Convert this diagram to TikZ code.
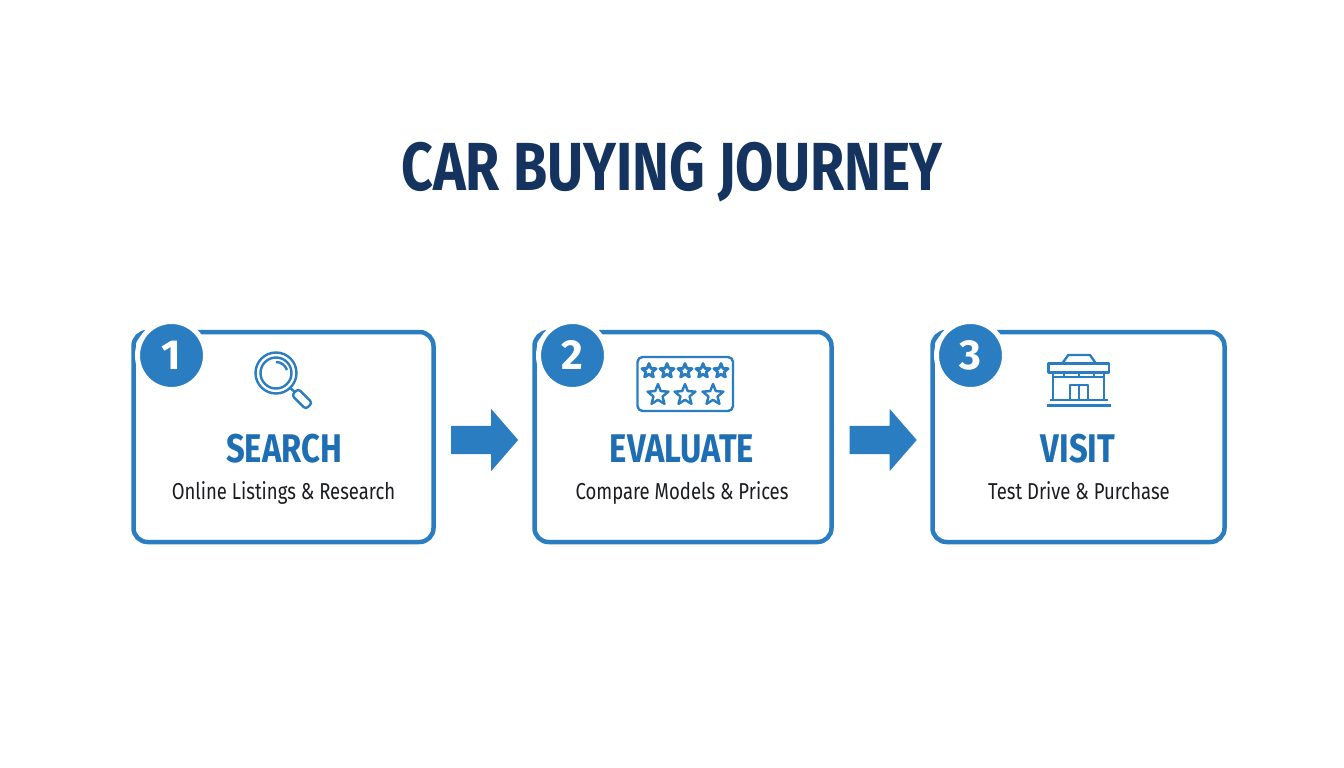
\documentclass[tikz,border=0pt]{standalone}
\usepackage{fontspec}
\setmainfont{Fira Sans}
\usetikzlibrary{shapes.arrows,shapes.geometric}
\definecolor{boxColor}{RGB}{42,125,192}
\definecolor{headColor}{RGB}{30,110,180}
\definecolor{titleColor}{RGB}{20,52,95}
\definecolor{textColor}{RGB}{26,28,32}
\tikzset{
  stepbox/.style={draw=boxColor,line width=4.5pt,fill=white,rounded corners=14pt,inner sep=0pt,outer sep=0pt},
  badge/.style={circle,fill=boxColor,draw=white,line width=5pt,minimum size=68pt,inner sep=0pt,text=white,font=\fontsize{42}{42}\selectfont\bfseries},
  flowarrow/.style={single arrow,fill=boxColor,inner xsep=0pt,inner ysep=14pt,outer sep=0pt,minimum height=67pt,minimum width=62pt,single arrow head extend=17pt,single arrow tip angle=98},
  headtext/.style={text=headColor,inner sep=0pt,outer sep=0pt,anchor=base,xscale=0.82,font=\fontsize{40}{40}\selectfont\bfseries},
  subtext/.style={text=textColor,inner sep=0pt,outer sep=0pt,anchor=base,xscale=0.805,font=\fontsize{23}{23}\selectfont},
  iconline/.style={draw=boxColor,line width=2.4pt,line join=round},
  bigstar/.style={star,star points=5,star point ratio=2.3,draw=boxColor,line width=2.4pt,inner sep=0pt,outer sep=0pt,line join=round},
}
\begin{document}
\begin{tikzpicture}[x=1pt,y=-1pt]
\path[use as bounding box,fill=white] (0,0) rectangle (1344,768);

\node[text=titleColor,inner sep=0pt,outer sep=0pt,anchor=base,xscale=0.815,font=\fontsize{68}{68}\selectfont\bfseries] (title) at (672,190) {CAR BUYING JOURNEY};

\node[stepbox,minimum width=300pt,minimum height=210pt] (search) at (283.5,437) {};
\node[stepbox,minimum width=297pt,minimum height=210pt] (evaluate) at (683,437) {};
\node[stepbox,minimum width=292pt,minimum height=210pt] (visit) at (1078.5,437) {};

\node[badge] (badge1) at (171.5,355.5) {1};
\node[badge] (badge2) at (572.5,355.5) {2};
\node[badge] (badge3) at (970.5,355.5) {3};

\node[flowarrow] (arrow1) at (478.5,440) {};
\node[flowarrow] (arrow2) at (877,440) {};

\node[headtext] (searchhead) at (284,462) {SEARCH};
\node[headtext] (evaluatehead) at (682,462) {EVALUATE};
\node[headtext] (visithead) at (1078,462) {VISIT};

\node[subtext] (searchsub) at (283.5,499) {Online Listings \& Research};
\node[subtext] (evaluatesub) at (682,499) {Compare Models \& Prices};
\node[subtext] (visitsub) at (1079,499) {Test Drive \& Purchase};

% magnifying glass
\path[iconline] (276,373) circle (20.5);
\path[iconline] (276,373) circle (15.5);
\path[iconline] (276,362) .. controls (281,362) and (285,365) .. (287,370);
\path[iconline] (290,388) -- (295,392);
\path[iconline,rounded corners=3pt] (298.2,388.8) -- (291.8,395.2) -- (305.8,409.2) -- (312.2,402.8) -- cycle;

% rating card
\path[iconline,rounded corners=5pt] (637.5,357) rectangle (733,411);
\foreach \x in {649,667,685,703,721} {
  \node[bigstar,minimum size=15pt,line width=2.8pt] (small\x) at (\x,371) {};
}
\foreach \x in {658,685,713} {
  \node[bigstar,minimum size=22pt] (large\x) at (\x,395) {};
}

% showroom
\path[iconline] (1062.3,363.3) -- (1068.3,355) -- (1090,355) -- (1095.7,363.3);
\path[iconline] (1048.3,363.3) rectangle (1109,372.3);
\path[iconline] (1053,372.3) -- (1053,400);
\path[iconline] (1104,372.3) -- (1104,400);
\path[iconline] (1053,377) -- (1104,377);
\path[iconline] (1064,372.3) -- (1064,377);
\path[iconline] (1079,372.3) -- (1079,377);
\path[iconline] (1094,372.3) -- (1094,377);
\path[iconline] (1070,400) -- (1070,385) -- (1088,385) -- (1088,400);
\path[iconline] (1079,385) -- (1079,400);
\path[iconline] (1050,400) -- (1108,400);
\path[iconline,line width=3pt] (1047,405) -- (1111,405);
\end{tikzpicture}
\end{document}
